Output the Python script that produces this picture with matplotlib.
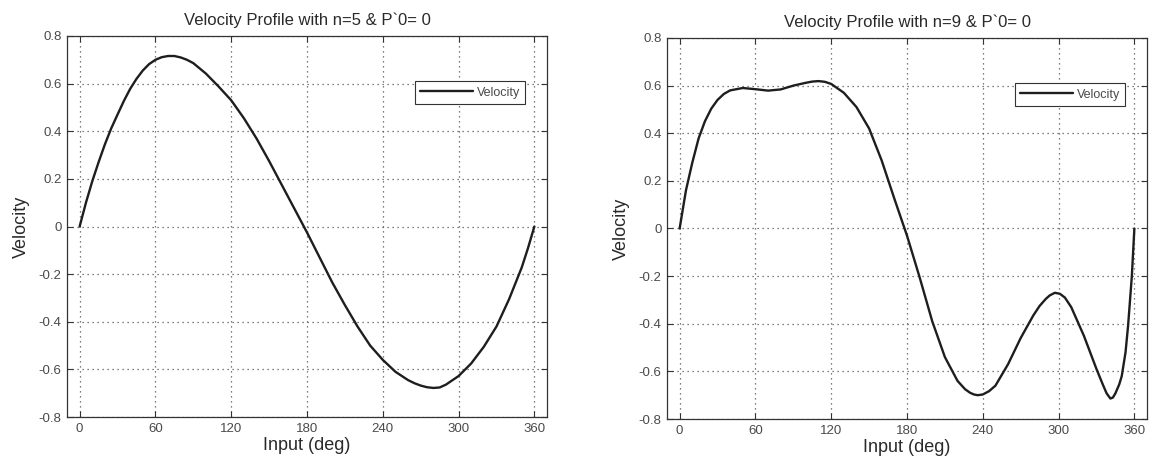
import matplotlib
matplotlib.use("Agg")
import matplotlib.pyplot as plt

plt.rcParams['font.family'] = ['Liberation Sans', 'DejaVu Sans']
plt.rcParams['axes.unicode_minus'] = False

# Input angle (deg) and velocity for the n=5 profile
angle_n5 = [0, 5, 10, 15, 20, 25, 30, 35, 40, 45, 50, 55, 60, 65, 70, 75, 80,
            85, 90, 100, 110, 120, 130, 140, 150, 160, 170, 180, 190, 200, 210,
            220, 230, 240, 250, 260, 265, 270, 275, 280, 285, 290, 300, 310,
            320, 330, 340, 350, 355, 360]
velocity_n5 = [0.0, 0.10, 0.19, 0.27, 0.345, 0.412, 0.47, 0.527, 0.578, 0.62,
               0.655, 0.682, 0.700, 0.711, 0.716, 0.716, 0.710, 0.700, 0.686,
               0.642, 0.588, 0.53, 0.455, 0.37, 0.275, 0.175, 0.075, -0.025,
               -0.13, -0.235, -0.33, -0.42, -0.50, -0.56, -0.61, -0.645,
               -0.658, -0.668, -0.675, -0.678, -0.676, -0.664, -0.628, -0.575,
               -0.505, -0.42, -0.305, -0.172, -0.09, 0.0]

# Input angle (deg) and velocity for the n=9 profile
angle_n9 = [0, 5, 10, 15, 20, 25, 30, 35, 40, 50, 60, 70, 80, 90, 100, 105,
            110, 115, 120, 130, 140, 150, 160, 170, 180, 190, 200, 210, 220,
            226, 230, 233, 236, 240, 245, 250, 260, 270, 280, 285, 290, 293,
            297, 301, 305, 310, 320, 330, 335, 338, 341, 343, 345, 348, 350,
            353, 355, 358, 360]
velocity_n9 = [0.0, 0.16, 0.276, 0.378, 0.45, 0.503, 0.54, 0.565, 0.58, 0.59,
               0.585, 0.579, 0.584, 0.60, 0.612, 0.617, 0.619, 0.616, 0.607,
               0.57, 0.51, 0.42, 0.285, 0.125, -0.03, -0.205, -0.39, -0.54,
               -0.64, -0.675, -0.69, -0.697, -0.70, -0.697, -0.683, -0.66,
               -0.57, -0.46, -0.365, -0.325, -0.295, -0.281, -0.27, -0.274,
               -0.29, -0.33, -0.45, -0.59, -0.655, -0.692, -0.714, -0.71,
               -0.692, -0.655, -0.62, -0.52, -0.41, -0.2, 0.0]

x_ticks = [0, 60, 120, 180, 240, 300, 360]
y_ticks = [-0.8, -0.6, -0.4, -0.2, 0, 0.2, 0.4, 0.6, 0.8]
y_tick_labels = ['-0.8', '-0.6', '-0.4', '-0.2', '0', '0.2', '0.4', '0.6', '0.8']
titles = ["Velocity Profile with n=5 & P`0= 0", "Velocity Profile with n=9 & P`0= 0"]
x_label = "Input (deg)"
y_label = "Velocity"
legend_label = "Velocity"

fig = plt.figure(figsize=(11.52, 4.66), dpi=100)
W, H = 1152, 466
ax1 = fig.add_axes([67 / W, 1 - 417 / H, 480 / W, 381 / H])
ax2 = fig.add_axes([667 / W, 1 - 419 / H, 480 / W, 381 / H])

text_col = '#2a2a2a'
tick_col = '#4a4a4a'

for ax, x, y, title in [(ax1, angle_n5, velocity_n5, titles[0]),
                        (ax2, angle_n9, velocity_n9, titles[1])]:
    ax.plot(x, y, color='#1e1e1e', linewidth=1.7, label=legend_label,
            solid_joinstyle='round', solid_capstyle='round')
    ax.set_xlim(-10, 370)
    ax.set_ylim(-0.8, 0.8)
    ax.set_xticks(x_ticks)
    ax.set_yticks(y_ticks)
    ax.set_yticklabels(y_tick_labels)
    ax.grid(True, linestyle=(0, (1, 3)), color='#555555', linewidth=0.9)
    ax.tick_params(direction='in', top=True, right=True, length=4,
                   width=0.8, colors='#333333', labelcolor=tick_col,
                   labelsize=9.5, pad=4)
    for s in ax.spines.values():
        s.set_color('#333333')
        s.set_linewidth(0.9)
    ax.set_title(title, fontsize=12, color=text_col, pad=8)
    ax.set_xlabel(x_label, fontsize=13, color=text_col, labelpad=2)
    ax.set_ylabel(y_label, fontsize=13, color=text_col, labelpad=6)
    leg = ax.legend(loc='upper right', bbox_to_anchor=(0.955, 0.882),
                    borderaxespad=0, fancybox=False, framealpha=1,
                    edgecolor='#333333', fontsize=9, handlelength=4.2,
                    handletextpad=0.3, borderpad=0.45)
    leg.get_frame().set_linewidth(0.8)
    for t in leg.get_texts():
        t.set_color(tick_col)

fig.savefig("out.png", dpi=100, facecolor='white')
